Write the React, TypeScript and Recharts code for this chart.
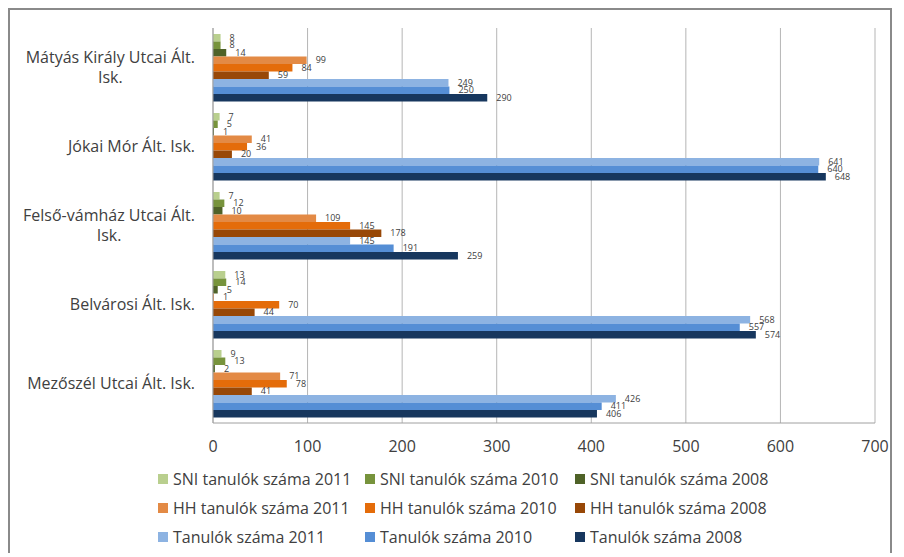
import React from 'react';
import { BarChart, Bar, XAxis, YAxis, CartesianGrid, LabelList } from 'recharts';

const schools = [
  'Mátyás Király Utcai Ált. Isk.',
  'Jókai Mór Ált. Isk.',
  'Felső-vámház Utcai Ált. Isk.',
  'Belvárosi Ált. Isk.',
  'Mezőszél Utcai Ált. Isk.',
];

const sni2011 = [8, 7, 7, 13, 9];
const sni2010 = [8, 5, 12, 14, 13];
const sni2008 = [14, 1, 10, 5, 2];
const hh2011 = [99, 41, 109, 1, 71];
const hh2010 = [84, 36, 145, 70, 78];
const hh2008 = [59, 20, 178, 44, 41];
const tanulok2011 = [249, 641, 145, 568, 426];
const tanulok2010 = [250, 640, 191, 557, 411];
const tanulok2008 = [290, 648, 259, 574, 406];

const xTicks = [0, 100, 200, 300, 400, 500, 600, 700];

// series in legend / drawing order
const series = [
  { key: 'sni2011', name: 'SNI tanulók száma 2011', color: '#b9cf8e', values: sni2011 },
  { key: 'sni2010', name: 'SNI tanulók száma 2010', color: '#77933c', values: sni2010 },
  { key: 'sni2008', name: 'SNI tanulók száma 2008', color: '#4f6228', values: sni2008 },
  { key: 'hh2011', name: 'HH tanulók száma 2011', color: '#e38a45', values: hh2011 },
  { key: 'hh2010', name: 'HH tanulók száma 2010', color: '#e46c0a', values: hh2010 },
  { key: 'hh2008', name: 'HH tanulók száma 2008', color: '#984807', values: hh2008 },
  { key: 't2011', name: 'Tanulók száma 2011', color: '#8db3e2', values: tanulok2011 },
  { key: 't2010', name: 'Tanulók száma 2010', color: '#558ed5', values: tanulok2010 },
  { key: 't2008', name: 'Tanulók száma 2008', color: '#17375e', values: tanulok2008 },
];

const rows = schools.map((name, i) => {
  const row: Record<string, any> = { name };
  series.forEach((s) => (row[s.key] = s.values[i]));
  return row;
});

const FONT_FAMILY = '"Open Sans", sans-serif';
const FONT_SIZE = 16;
const TEXT = '#404040';

let ctx: CanvasRenderingContext2D | null = null;
const textWidth = (s: string) => {
  if (!ctx) ctx = document.createElement('canvas').getContext('2d');
  if (!ctx) return s.length * 8;
  ctx.font = `${FONT_SIZE}px ${FONT_FAMILY}`;
  return ctx.measureText(s).width;
};

const wrap = (label: string, maxW: number) => {
  const words = label.split(' ');
  const lines: string[] = [];
  let cur = '';
  words.forEach((w) => {
    const next = cur ? cur + ' ' + w : w;
    if (cur && textWidth(next) > maxW) {
      lines.push(cur);
      cur = w;
    } else cur = next;
  });
  if (cur) lines.push(cur);
  return lines;
};

// excel style: lines centred in a block, block right aligned to the axis
const SchoolTick = ({ x, y, payload }: any) => {
  const lines = wrap(payload.value, 186);
  const blockW = Math.max(...lines.map(textWidth));
  const cx = x - 10 - blockW / 2;
  const lh = 20;
  const y0 = y - ((lines.length - 1) * lh) / 2;
  return (
    <text textAnchor="middle" fill={TEXT} fontFamily={FONT_FAMILY} fontSize={FONT_SIZE}>
      {lines.map((l, i) => (
        <tspan key={i} x={cx} y={y0 + i * lh} dy="0.35em">
          {l}
        </tspan>
      ))}
    </text>
  );
};

const Legend3x3 = () => (
  <div
    style={{
      position: 'absolute',
      left: 148,
      top: 459,
      display: 'grid',
      gridTemplateColumns: '207px 210px 200px',
      rowGap: 9,
      fontFamily: FONT_FAMILY,
      fontSize: FONT_SIZE,
      color: TEXT,
    }}
  >
    {series.map((s) => (
      <div key={s.key} style={{ display: 'flex', alignItems: 'center', height: 20, whiteSpace: 'nowrap' }}>
        <span style={{ width: 10, height: 10, background: s.color, marginRight: 5, display: 'inline-block', flex: 'none' }} />
        {s.name}
      </div>
    ))}
  </div>
);

export default function App() {
  return (
    <div
      style={{
        position: 'relative',
        width: 884,
        height: 545,
        borderTop: '2px solid #8a8a8a',
        borderLeft: '2px solid #8a8a8a',
        borderRight: '2px solid #8a8a8a',
        boxSizing: 'border-box',
        background: '#fff',
        overflow: 'hidden',
      }}
    >
      <div style={{ position: 'absolute', left: -2, top: -2 }}>
        <BarChart
          width={896}
          height={549}
          data={rows}
          layout="vertical"
          barGap={0}
          margin={{ top: 20, right: 29, bottom: 104, left: 0 }}
        >
          <CartesianGrid horizontal={false} stroke="#b5b5b5" />
          <XAxis
            type="number"
            domain={[0, 700]}
            ticks={xTicks}
            tickLine={false}
            axisLine={{ stroke: '#a0a0a0' }}
            tickMargin={12}
            height={30}
            tick={{ fill: TEXT, fontFamily: FONT_FAMILY, fontSize: FONT_SIZE }}
          />
          <YAxis
            type="category"
            dataKey="name"
            width={205}
            tickLine={false}
            axisLine={{ stroke: '#a0a0a0' }}
            tick={<SchoolTick />}
          />
          {series.map((s) => (
            <Bar key={s.key} dataKey={s.key} name={s.name} fill={s.color} barSize={7.5} isAnimationActive={false}>
              <LabelList
                dataKey={s.key}
                position="right"
                offset={9}
                fill={TEXT}
                fontSize={9}
                fontFamily={FONT_FAMILY}
              />
            </Bar>
          ))}
        </BarChart>
      </div>
      <Legend3x3 />
    </div>
  );
}
